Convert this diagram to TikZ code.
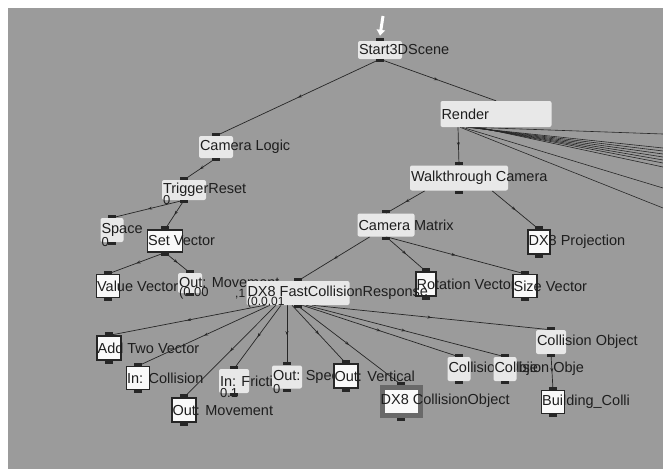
\documentclass[tikz,border=0pt]{standalone}
\usepackage{fontspec}
\setmainfont{Liberation Sans}
\usetikzlibrary{arrows.meta,decorations.markings}

\definecolor{bgc}{RGB}{155,155,155}
\definecolor{boxc}{RGB}{232,232,232}
\definecolor{wirec}{RGB}{38,38,38}
\definecolor{txtc}{RGB}{30,30,30}
\definecolor{selc}{RGB}{105,105,105}

\pgfdeclarelayer{back}
\pgfdeclarelayer{wires}
\pgfsetlayers{back,wires,main}

\tikzset{
  sz/.style 2 args={minimum width=#1pt, minimum height=#2pt},
  blk/.style={fill=boxc, rounded corners=2pt, inner sep=0pt},
  vblk/.style={fill=white!95!gray, draw=black!85, line width=1.2pt, inner sep=0pt},
  selblk/.style={fill=white!95!gray, draw=selc, line width=5pt, inner sep=0pt},
  lbl/.style={anchor=west, inner sep=1pt, text=txtc, font=\fontsize{14.5}{16}\selectfont},
  val/.style={anchor=west, inner sep=1pt, text=txtc, font=\fontsize{13}{14}\selectfont},
  wire/.style={draw=wirec, line width=0.7pt, postaction={decorate},
    decoration={markings, mark=at position 0.5 with {\arrow{Stealth[length=4pt,width=3pt]}}}},
  fan/.style={draw=wirec, line width=0.6pt},
}

\begin{document}
\begin{tikzpicture}[x=1pt,y=-1pt]
    \useasboundingbox (0,0) rectangle (663,469);
    \begin{pgfonlayer}{back}
        \fill[white] (0,0) rectangle (663,469);
        \fill[bgc] (8,8) rectangle (663,469);
    \end{pgfonlayer}

    % scene root
    \coordinate (entry) at (383,16);
    \node[blk, sz={44}{18}, label={[lbl]west:Start3DScene}] (start) at (380,50) {};
    \node[blk, sz={111}{26}, label={[lbl]west:Render}] (render) at (496,114) {};

    % camera logic branch
    \node[blk, sz={34}{22}, label={[lbl]west:Camera Logic}] (camlogic) at (216,147) {};
    \node[blk, sz={44}{20}, label={[lbl]west:TriggerReset}, label={[val]south west:0}] (trigger) at (184,190) {};
    \node[blk, sz={23}{24}, label={[lbl]west:Space}, label={[val]south west:0}] (space) at (112,230) {};
    \node[vblk, sz={35}{22}, label={[lbl]west:Set Vector}] (setvec) at (165,241) {};
    \node[vblk, sz={23}{23}, label={[lbl]west:Value Vector}] (valvec) at (108,286) {};
    \node[blk, sz={24}{20}, label={[lbl]west:Out: Movement}, label={[val]south west:(0.00}] (outmov1) at (190,283) {};

    % render branch
    \node[blk, sz={98}{25}, label={[lbl]west:Walkthrough Camera}] (walk) at (459,178) {};
    \node[blk, sz={57}{23}, label={[lbl]west:Camera Matrix}] (cammat) at (386,225) {};
    \node[vblk, sz={22}{24}, label={[lbl]west:DX8 Projection}] (proj) at (539,242) {};
    \node[vblk, sz={20}{24}, label={[lbl]west:Rotation Vector}] (rotvec) at (426,284) {};
    \node[vblk, sz={24}{23}, label={[lbl]west:Size Vector}] (sizevec) at (525,286) {};

    % collision response
    \node[val, font=\fontsize{12}{13}\selectfont] (dxfidx) at (234,294) {,1};
    \node[blk, sz={103}{24}, label={[lbl]west:DX8 FastCollisionResponse}] (dxf) at (298,293) {};
    \node[val, font=\fontsize{12}{13}\selectfont] (dxfval) at (246,302) {(0.0.01};
    \node[vblk, sz={24}{24}, label={[lbl]west:Add Two Vector}] (addtwo) at (109,348) {};
    \node[vblk, sz={23}{23}, label={[lbl]west:In: Collision}] (incol) at (138,378) {};
    \node[vblk, sz={24}{24}, label={[lbl]west:Out: Movement}] (outmov2) at (184,410) {};
    \node[blk, sz={30}{24}, label={[lbl]west:In: Friction}, label={[val]south west:0.1}] (infric) at (234,381) {};
    \node[blk, sz={30}{23}, label={[lbl]west:Out: Speed}, label={[val]south west:0}] (outspeed) at (287,377) {};
    \node[vblk, sz={24}{24}, label={[lbl]west:Out: Vertical}] (outvert) at (346,376) {};
    \node[selblk, sz={38}{28}, label={[lbl]west:DX8 CollisionObject}] (dxcol) at (401,401) {};
    \node[blk, sz={23}{24}, label={[lbl]west:Collision Obje}] (colobj1) at (459,369) {};
    \node[blk, sz={23}{24}, label={[lbl]west:Collision Obje}] (colobj2) at (505,369) {};
    \node[blk, sz={30}{24}, label={[lbl]west:Collision Object}] (colobj) at (551,342) {};
    \node[vblk, sz={23}{23}, label={[lbl]west:Building\_Colli}] (building) at (553,402) {};

    % ports
    \foreach \n in {start,camlogic,trigger,space,setvec,valvec,outmov1,walk,cammat,proj,rotvec,sizevec,
        dxf,addtwo,incol,outmov2,infric,outspeed,outvert,dxcol,colobj1,colobj2,colobj,building} {
        \fill[wirec] ([xshift=-4pt]\n.north) rectangle ([xshift=4pt,yshift=3pt]\n.north);
        \fill[wirec] ([xshift=-4pt]\n.south) rectangle ([xshift=4pt,yshift=-3pt]\n.south);
    }

    \draw[white, line width=3pt, -{Triangle[length=6pt,width=8pt]}] (entry) -- ([yshift=5pt]start.north);

    \begin{pgfonlayer}{wires}
        \draw[wire] (start.south) -- (camlogic.north);
        \draw[wire] (start.south) -- (render.north);
        \draw[wire] (camlogic.south) -- (trigger.north);
        \draw[wire] (trigger.south) -- (space.north);
        \draw[wire] (trigger.south) -- (setvec.north);
        \draw[wire] (setvec.south) -- (valvec.north);
        \draw[wire] (setvec.south) -- (outmov1.north);
        \draw[wire] ([xshift=-38pt]render.south) -- (walk.north);
        \draw[wire] ([xshift=-34pt]walk.south) -- (cammat.north);
        \draw[wire] ([xshift=33pt]walk.south) -- (proj.north);
        \draw[wire] ([xshift=-16pt]cammat.south) -- (dxf.north);
        \draw[wire] (cammat.south) -- (rotvec.north);
        \draw[wire] (cammat.south) -- (sizevec.north);
        \draw[wire] (colobj.south) -- (building.north);

        % fan out of the collision response
        \foreach \dx/\t in {-33/addtwo,-28/incol,-22/outmov2,-17/infric,-11/outspeed,
            -6/outvert,-1/dxcol,4/colobj1,8/colobj2,14/colobj} {
            \draw[wire] ([xshift=\dx pt]dxf.south) -- (\t.north);
        }

        % render outputs leaving the view
        \foreach \i/\dx/\y in {1/-26/134,2/-30/148,3/-28/151,4/-26/154,5/-24/157,
            6/-22/160,7/-20/163,8/-18/167,9/-34/188,10/-36/208} {
            \coordinate (out\i) at (663,\y);
            \draw[fan] ([xshift=\dx pt]render.south) -- (out\i);
        }
    \end{pgfonlayer}
\end{tikzpicture}
\end{document}
